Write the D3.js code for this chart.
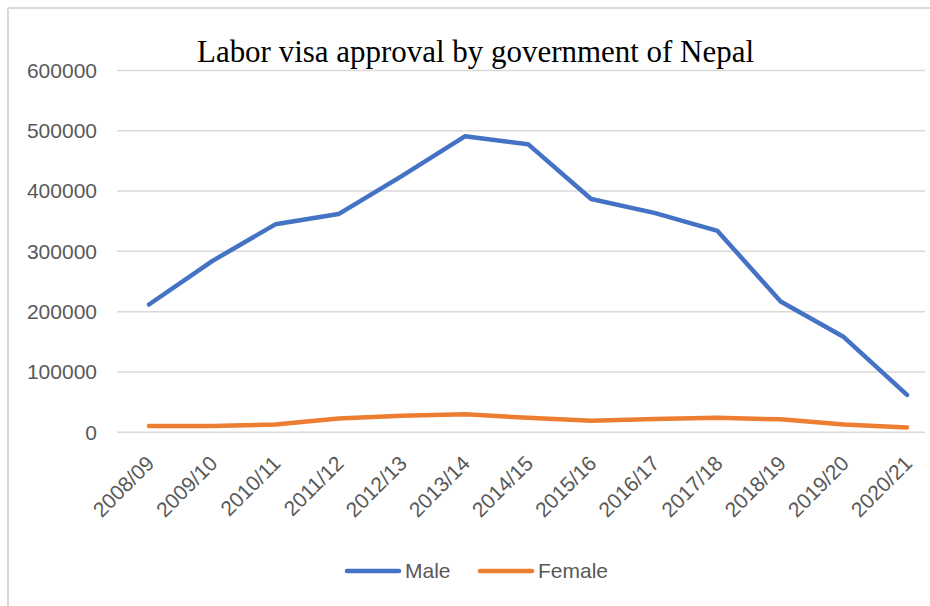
<!DOCTYPE html>
<html>
<head>
<meta charset="utf-8">
<script src="https://cdn.jsdelivr.net/npm/d3@7"></script>
<style>
  body { margin: 0; background: #fff; }
  text { font-family: "Liberation Sans", Arial, sans-serif; }
</style>
</head>
<body>
<div id="chart"></div>
<script>
// data
const years = ["2008/09", "2009/10", "2010/11", "2011/12", "2012/13", "2013/14", "2014/15",
               "2015/16", "2016/17", "2017/18", "2018/19", "2019/20", "2020/21"];
const male = [211000, 283000, 344000, 361000, 424000, 490000, 477000,
              386000, 363000, 333000, 216000, 157000, 61000];
const female = [9500, 9500, 12000, 22000, 26500, 29000, 23000,
                18000, 21000, 23000, 20500, 12000, 7000];
const yTicks = [0, 100000, 200000, 300000, 400000, 500000, 600000];

const width = 930, height = 606;
const svg = d3.select("#chart").append("svg")
  .attr("width", width)
  .attr("height", height);

svg.append("rect").attr("width", width).attr("height", height).attr("fill", "#fff");

// frame lines (left and top)
svg.append("line").attr("x1", 8).attr("x2", 8).attr("y1", 8).attr("y2", 606)
  .attr("stroke", "#d9d9d9").attr("stroke-width", 2);
svg.append("line").attr("x1", 8).attr("x2", 930).attr("y1", 8).attr("y2", 8)
  .attr("stroke", "#d9d9d9").attr("stroke-width", 2);

const x = d3.scalePoint().domain(years).range([149, 907]);
const y = d3.scaleLinear().domain([0, 600000]).range([431.7, 70]);

// gridlines + y labels
const yAxis = d3.axisLeft(y).tickValues(yTicks).tickSize(-(925 - 117)).tickPadding(20).tickFormat(d3.format("d"));
const gy = svg.append("g").attr("transform", "translate(117,0)").call(yAxis);
gy.select(".domain").remove();
gy.selectAll(".tick line").attr("stroke", "#d9d9d9").attr("stroke-width", 1.5);
gy.selectAll(".tick text")
  .attr("fill", "#595959")
  .style("font-size", "21px")
  .attr("x", -20)
  .attr("dy", "0.35em");

// x labels
const xAxis = d3.axisBottom(x).tickSize(0).tickPadding(0);
const gx = svg.append("g").attr("transform", "translate(0,431.7)").call(xAxis);
gx.select(".domain").remove();
gx.selectAll(".tick text")
  .attr("fill", "#595959")
  .style("font-size", "21px")
  .attr("text-anchor", "end")
  .attr("x", 0).attr("y", 0).attr("dy", 0)
  .attr("transform", "translate(6,33) rotate(-45)");

// series lines
const line = d3.line().x((d, i) => x(years[i])).y(d => y(d));
const series = [
  { name: "Male", values: male, color: "#4472C4" },
  { name: "Female", values: female, color: "#ED7D31" }
];
svg.selectAll("path.series")
  .data(series)
  .enter().append("path")
  .attr("class", "series")
  .attr("d", d => line(d.values))
  .attr("fill", "none")
  .attr("stroke", d => d.color)
  .attr("stroke-width", 4.5)
  .attr("stroke-linecap", "round")
  .attr("stroke-linejoin", "round");

// title
svg.append("text")
  .attr("x", 197).attr("y", 62)
  .attr("textLength", 557)
  .attr("lengthAdjust", "spacingAndGlyphs")
  .style("font-family", "'Liberation Serif', 'Times New Roman', serif")
  .style("font-size", "32px")
  .attr("fill", "#000")
  .text("Labor visa approval by government of Nepal");

// legend
const legendX = [347, 480];
const lg = svg.selectAll("g.legend")
  .data(series)
  .enter().append("g")
  .attr("class", "legend")
  .attr("transform", (d, i) => `translate(${legendX[i]},571)`);
lg.append("line")
  .attr("x1", 0).attr("x2", 52)
  .attr("stroke", d => d.color)
  .attr("stroke-width", 4.5)
  .attr("stroke-linecap", "round");
lg.append("text")
  .attr("x", 58).attr("dy", "0.35em")
  .attr("fill", "#595959")
  .style("font-size", "21px")
  .text(d => d.name);
</script>
</body>
</html>
